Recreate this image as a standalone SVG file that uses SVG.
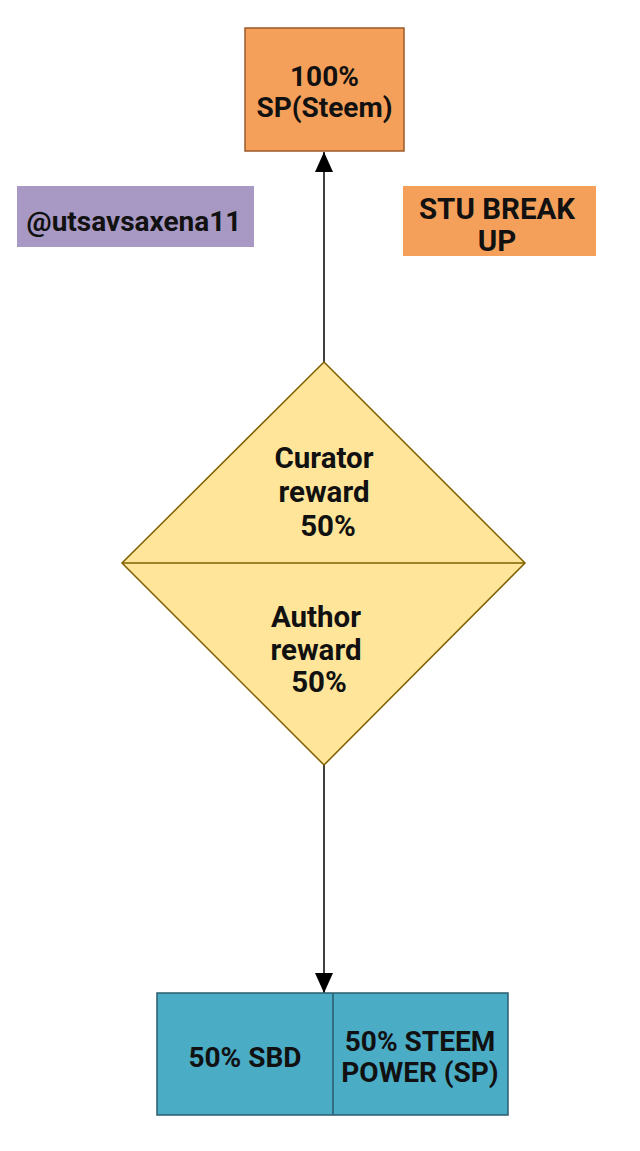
<svg xmlns="http://www.w3.org/2000/svg" width="640" height="1151" viewBox="0 0 640 1151">
<style>
.t{font-family:Roboto,"Liberation Sans",sans-serif;font-weight:bold;font-size:28px;fill:#111;text-anchor:middle}
.d{font-size:29.5px}
.s{font-size:29.5px}
</style>
<defs>
<marker id="ah" markerWidth="20" markerHeight="18" refX="20" refY="9" orient="auto" markerUnits="userSpaceOnUse">
<path d="M0,0 L20,9 L0,18 Z" fill="#000"/>
</marker>
</defs>
<rect width="640" height="1151" fill="#fff"/>
<g id="connectors" stroke="#000" stroke-width="1.5" fill="none">
<line x1="324" y1="362" x2="324" y2="152" marker-end="url(#ah)"/>
<line x1="324" y1="765" x2="324" y2="993" marker-end="url(#ah)"/>
</g>
<g id="sp-steem">
<rect x="245" y="28" width="159" height="123" fill="#F5A05A" stroke="#9C5A2A" stroke-width="1.5"/>
<text class="t" x="324.5" y="86">100%</text>
<text class="t" x="324.5" y="117">SP(Steem)</text>
</g>
<g id="author-tag">
<rect x="17" y="186" width="237" height="61" fill="#A899C4"/>
<text class="t" x="134" y="231">@utsavsaxena11</text>
</g>
<g id="stu-breakup">
<rect x="403" y="186" width="193" height="70" fill="#F5A05A"/>
<text class="t s" x="497" y="219">STU BREAK</text>
<text class="t s" x="497" y="251">UP</text>
</g>
<g id="reward-diamond">
<path d="M324,362 L525,563 L324,765 L122,563 Z" fill="#FFE599" stroke="#7F6000" stroke-width="1.5"/>
<line x1="122" y1="563" x2="525" y2="563" stroke="#7F6000" stroke-width="1.5"/>
<text class="t d" x="324" y="468">Curator</text>
<text class="t d" x="324" y="502">reward</text>
<text class="t d" x="328" y="536">50%</text>
<text class="t d" x="316" y="627">Author</text>
<text class="t d" x="316" y="660">reward</text>
<text class="t d" x="319" y="692">50%</text>
</g>
<g id="payout">
<rect x="157" y="993" width="351" height="122" fill="#4BACC6" stroke="#2B5B6E" stroke-width="1.5"/>
<line x1="333" y1="993" x2="333" y2="1115" stroke="#2B5B6E" stroke-width="1.5"/>
<text class="t" x="245" y="1067">50% SBD</text>
<text class="t" x="420" y="1051">50% STEEM</text>
<text class="t" x="420" y="1082">POWER (SP)</text>
</g>
</svg>
